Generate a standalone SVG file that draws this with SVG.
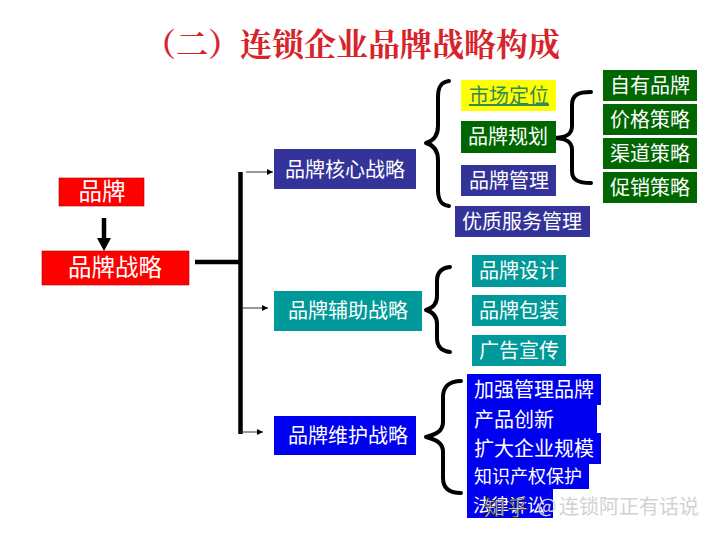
<svg xmlns="http://www.w3.org/2000/svg" width="720" height="537" viewBox="0 0 720 537">
<style>
text{font-family:"Noto Sans CJK SC","Liberation Sans",sans-serif;text-anchor:middle;fill:#fff;font-size:20px}
.title{font-family:"Noto Serif CJK SC","Noto Sans CJK SC",serif;fill:#d8232a;font-size:32px;font-weight:700}
.big{font-size:23.500px}
.wm{fill:#d2d2d2}
.b{fill:none;stroke:#000;stroke-width:4;stroke-linecap:round;stroke-linejoin:round}
.s{fill:none;stroke:#333;stroke-width:1;marker-end:url(#a)}
.red{fill:#f00;stroke:#a00;stroke-width:.6}.navy{fill:#333399}.green{fill:#006600}.teal{fill:#009999}.blue{fill:#0000f0}
</style>
<defs><marker id="a" markerUnits="userSpaceOnUse" markerWidth="7" markerHeight="8" refX="6" refY="4" orient="auto"><path d="M0 1L6 4L0 7z" fill="#000"/></marker></defs>
<rect width="720" height="537" fill="#fff"/>
<text class="title" x="352" y="56">（二）连锁企业品牌战略构成</text>
<g id="connectors">
<path d="M104 218V244" stroke="#000" stroke-width="4.500" fill="none"/>
<path d="M97 238H111L104 251z" fill="#000"/>
<path d="M195 262H240M240.500 172V434" stroke="#000" stroke-width="4.500" fill="none"/>
<path class="s" d="M246 172H273"/>
<path class="s" d="M243 308H268"/>
<path class="s" d="M240 432H263"/>
<path class="b" d="M449 81C441 82 438 87 438 97V126C438 136 433 141 426 143C433 145 438 150 438 160V190C438 200 441 205 449 206"/>
<path class="b" d="M591 92C578 92 572 95 572 105V126C572 134 567 138 553 138C567 138 572 142 572 150V171C572 180 578 183 591 183"/>
<path class="b" d="M450 267C441 268 437 273 437 281V296C437 304 433 308 426 310C433 312 437 316 437 324V338C437 346 441 351 450 352"/>
<path class="b" d="M461 381C449 381 443 387 443 397V422C443 430 438 434 426 437C438 440 443 444 443 452V478C443 488 449 493 461 493"/>
</g>
<g id="n-brand"><rect class="red" x="59" y="178" width="85" height="28"/><text class="big" x="102" y="200">品牌</text></g>
<g id="n-strategy"><rect class="red" x="42" y="251" width="147" height="34"/><text class="big" x="115" y="276">品牌战略</text></g>
<g id="n-core"><rect class="navy" x="274" y="149" width="142" height="40"/><text x="345" y="177">品牌核心战略</text></g>
<g id="n-aux"><rect class="teal" x="274" y="291" width="148" height="40"/><text x="348" y="318">品牌辅助战略</text></g>
<g id="n-maint"><rect class="blue" x="274" y="416" width="142" height="39"/><text x="348" y="443">品牌维护战略</text></g>
<g id="n-pos"><rect x="461" y="80" width="95" height="31" fill="#ffff00"/><text x="509" y="103" style="fill:#2e8b57;text-decoration:underline">市场定位</text></g>
<g id="n-plan"><rect class="green" x="461" y="121" width="95" height="32"/><text x="508" y="144">品牌规划</text></g>
<g id="n-mgmt"><rect class="navy" x="461" y="165" width="95" height="31"/><text x="509" y="188">品牌管理</text></g>
<g id="n-service"><rect class="navy" x="455" y="206" width="135" height="31"/><text x="522" y="229">优质服务管理</text></g>
<g id="n-own"><rect class="green" x="603" y="70" width="94" height="31"/><text x="650" y="93">自有品牌</text></g>
<g id="n-price"><rect class="green" x="603" y="104" width="94" height="31"/><text x="650" y="127">价格策略</text></g>
<g id="n-channel"><rect class="green" x="603" y="138" width="94" height="31"/><text x="650" y="161">渠道策略</text></g>
<g id="n-promo"><rect class="green" x="603" y="172" width="94" height="31"/><text x="650" y="195">促销策略</text></g>
<g id="n-design"><rect class="teal" x="472" y="255" width="94" height="32"/><text x="519" y="278">品牌设计</text></g>
<g id="n-pack"><rect class="teal" x="472" y="295" width="94" height="31"/><text x="519" y="318">品牌包装</text></g>
<g id="n-ad"><rect class="teal" x="472" y="335" width="94" height="31"/><text x="519" y="358">广告宣传</text></g>
<g id="n-m1"><rect class="blue" x="467" y="374" width="134" height="31"/><text x="534" y="397">加强管理品牌</text></g>
<g id="n-m2"><rect class="blue" x="467" y="405" width="130" height="28"/><text x="514" y="427">产品创新</text></g>
<g id="n-m3"><rect class="blue" x="467" y="433" width="134" height="31"/><text x="534" y="456">扩大企业规模</text></g>
<g id="n-m4"><rect class="blue" x="467" y="464" width="122" height="25"/><text x="528" y="483" style="font-size:18px">知识产权保护</text></g>
<g id="n-m5"><rect class="blue" x="467" y="489" width="86" height="29"/><text x="509" y="512" style="font-size:18px">法律诉讼</text></g>
<g id="watermark">
<text x="507" y="515" style="font-size:21px;fill:#f4f4f4;stroke:#111;stroke-width:.7;letter-spacing:2px">知乎</text>
<text class="wm" x="547" y="513">@</text>
<text class="wm" x="629" y="514">连锁阿正有话说</text>
</g>
</svg>
